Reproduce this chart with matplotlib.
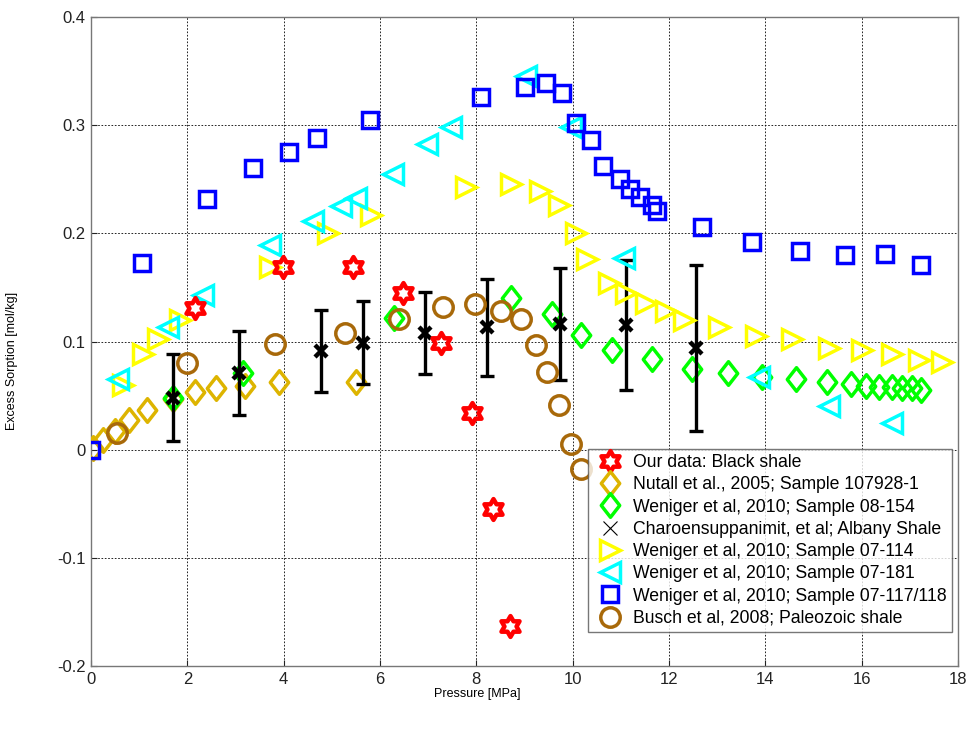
import matplotlib
matplotlib.use('Agg')
import matplotlib.pyplot as plt
from matplotlib.path import Path as MPath
from matplotlib.lines import Line2D
import numpy as np

plt.rcParams['font.family'] = ['Liberation Sans', 'DejaVu Sans']
plt.rcParams['axes.unicode_minus'] = False

# data
our_x = [2.16, 3.98, 5.43, 6.47, 7.27, 7.9, 8.35, 8.7]
our_y = [0.131, 0.169, 0.169, 0.145, 0.099, 0.034, -0.055, -0.163]

nutall_x = [0.05, 0.25, 0.5, 0.78, 1.17, 1.7, 2.15, 2.6, 3.2, 3.9, 5.5]
nutall_y = [0.002, 0.009, 0.017, 0.027, 0.037, 0.047, 0.053, 0.057, 0.059, 0.063, 0.063]

w154_x = [1.7, 3.15, 6.3, 8.73, 9.57, 10.18, 10.82, 11.65, 12.48, 13.22, 13.93, 14.63,
          15.27, 15.77, 16.1, 16.37, 16.62, 16.83, 17.04, 17.24]
w154_y = [0.048, 0.071, 0.122, 0.140, 0.125, 0.106, 0.092, 0.084, 0.075, 0.071, 0.067, 0.065,
          0.063, 0.061, 0.059, 0.058, 0.058, 0.057, 0.057, 0.055]

char_x = [1.7, 3.07, 4.77, 5.64, 6.94, 8.23, 9.74, 11.11, 12.56]
char_y = [0.048, 0.071, 0.091, 0.099, 0.108, 0.113, 0.116, 0.115, 0.094]
char_err = [0.040, 0.039, 0.038, 0.038, 0.038, 0.045, 0.052, 0.060, 0.077]

w114_x = [0.66, 1.08, 1.39, 1.85, 3.71, 4.92, 5.82, 7.79, 8.73, 9.33, 9.72, 10.07, 10.3,
          10.76, 11.1, 11.52, 11.94, 12.31, 13.04, 13.8, 14.55, 15.32, 16.0, 16.62, 17.18, 17.66]
w114_y = [0.060, 0.088, 0.102, 0.120, 0.169, 0.200, 0.217, 0.243, 0.246, 0.239, 0.226, 0.200, 0.176,
          0.154, 0.145, 0.136, 0.128, 0.120, 0.113, 0.105, 0.102, 0.094, 0.092, 0.088, 0.083, 0.081]

w181_x = [0.56, 1.6, 2.32, 3.71, 4.6, 5.2, 5.51, 6.26, 6.98, 7.48, 9.04, 9.97, 11.07, 13.87, 15.32, 16.62]
w181_y = [0.065, 0.113, 0.143, 0.189, 0.211, 0.225, 0.233, 0.255, 0.283, 0.298, 0.345, 0.298,
          0.177, 0.067, 0.040, 0.025]

w117_x = [0.0, 1.06, 2.4, 3.36, 4.12, 4.7, 5.8, 8.1, 9.02, 9.45, 9.78, 10.07, 10.38, 10.63,
          10.98, 11.2, 11.4, 11.65, 11.75, 12.68, 13.72, 14.72, 15.65, 16.48, 17.24]
w117_y = [0.0, 0.173, 0.232, 0.26, 0.275, 0.288, 0.305, 0.326, 0.335, 0.339, 0.330, 0.302, 0.286,
          0.262, 0.25, 0.241, 0.234, 0.226, 0.221, 0.206, 0.192, 0.184, 0.180, 0.181, 0.171]

busch_x = [0.53, 2.0, 3.83, 5.27, 6.4, 7.3, 7.97, 8.52, 8.93, 9.24, 9.47, 9.72, 9.97, 10.18]
busch_y = [0.015, 0.080, 0.098, 0.108, 0.121, 0.132, 0.135, 0.128, 0.121, 0.097, 0.072, 0.041,
           0.005, -0.018]

x_ticks = [0, 2, 4, 6, 8, 10, 12, 14, 16, 18]
y_ticks = [-0.2, -0.1, 0, 0.1, 0.2, 0.3, 0.4]
y_tick_labels = ['-0.2', '-0.1', '0', '0.1', '0.2', '0.3', '0.4']

# matlab-like markers
ang = np.pi / 2 + np.arange(12) * np.pi / 6
rad = np.where(np.arange(12) % 2 == 0, 1.0, 1 / np.sqrt(3))
hex_verts = list(zip(rad * np.cos(ang), rad * np.sin(ang)))
hexagram = MPath(hex_verts + [hex_verts[0]], closed=True)
diamond = MPath([(0, 1), (0.78, 0), (0, -1), (-0.78, 0), (0, 1)], closed=True)

gold = '#DDB400'
brown = '#A8690A'
mw = 2.5

fig = plt.figure(figsize=(9.72, 7.31), dpi=100)
ax = fig.add_axes([91 / 972, 65 / 731, 867 / 972, 649 / 731])

h_nut, = ax.plot(nutall_x, nutall_y, ls='none', marker=diamond, ms=17, mfc='none', mec=gold, mew=mw, zorder=3)
h_154, = ax.plot(w154_x, w154_y, ls='none', marker=diamond, ms=17, mfc='none', mec='#00FF00', mew=mw, zorder=3)
ax.errorbar(char_x, char_y, yerr=char_err, fmt='none', ecolor='k', elinewidth=2.4, capsize=5, capthick=2.4, zorder=4)
ax.plot(char_x, char_y, ls='none', marker='x', ms=9, mec='k', mew=3.2, zorder=4)
h_114, = ax.plot(w114_x, w114_y, ls='none', marker='>', ms=15, mfc='none', mec='#FFFF00', mew=mw, zorder=5)
h_181, = ax.plot(w181_x, w181_y, ls='none', marker='<', ms=15, mfc='none', mec='#00FFFF', mew=mw, zorder=6)
h_117, = ax.plot(w117_x, w117_y, ls='none', marker='s', ms=11, mfc='none', mec='#0000FF', mew=mw, zorder=7)
h_bus, = ax.plot(busch_x, busch_y, ls='none', marker='o', ms=14, mfc='none', mec=brown, mew=mw, zorder=7)
h_our, = ax.plot(our_x, our_y, ls='none', marker=hexagram, ms=15, mfc='none', mec='#FF0000', mew=3.2, zorder=8)
h_char = Line2D([], [], ls='none', marker='x', ms=10, mec='k', mew=0.8)

ax.set_xlim(0, 18)
ax.set_ylim(-0.2, 0.4)
ax.set_xticks(x_ticks)
ax.set_yticks(y_ticks)
ax.set_yticklabels(y_tick_labels)
ax.tick_params(direction='in', length=4, labelsize=12, colors='#222222', pad=4)
ax.grid(True, color='k', linestyle=(0, (2, 2)), linewidth=0.6)
for s in ax.spines.values():
    s.set_color('#777777')
    s.set_linewidth(1)

ax.set_xlabel('Pressure [MPa]', fontsize=9)
ax.xaxis.set_label_coords(0.445, -0.034)
ax.set_ylabel('Excess Sorption [mol/kg]', fontsize=9)
ax.yaxis.set_label_coords(-0.084, 0.47)

leg = ax.legend(
    [h_our, h_nut, h_154, h_char, h_114, h_181, h_117, h_bus],
    ['Our data: Black shale',
     'Nutall et al., 2005; Sample 107928-1',
     'Weniger et al, 2010; Sample 08-154',
     'Charoensuppanimit, et al; Albany Shale',
     'Weniger et al, 2010; Sample 07-114',
     'Weniger et al, 2010; Sample 07-181',
     'Weniger et al, 2010; Sample 07-117/118',
     'Busch et al, 2008; Paleozoic shale'],
    loc='lower right', bbox_to_anchor=(0.993, 0.052), borderaxespad=0,
    fontsize=12.7, frameon=True, fancybox=False, edgecolor='#555555',
    handlelength=1.9, handletextpad=0.35, labelspacing=0.3, borderpad=0.3,
)
leg.get_frame().set_linewidth(1)
leg.set_zorder(20)

fig.savefig('out.png', dpi=100)
